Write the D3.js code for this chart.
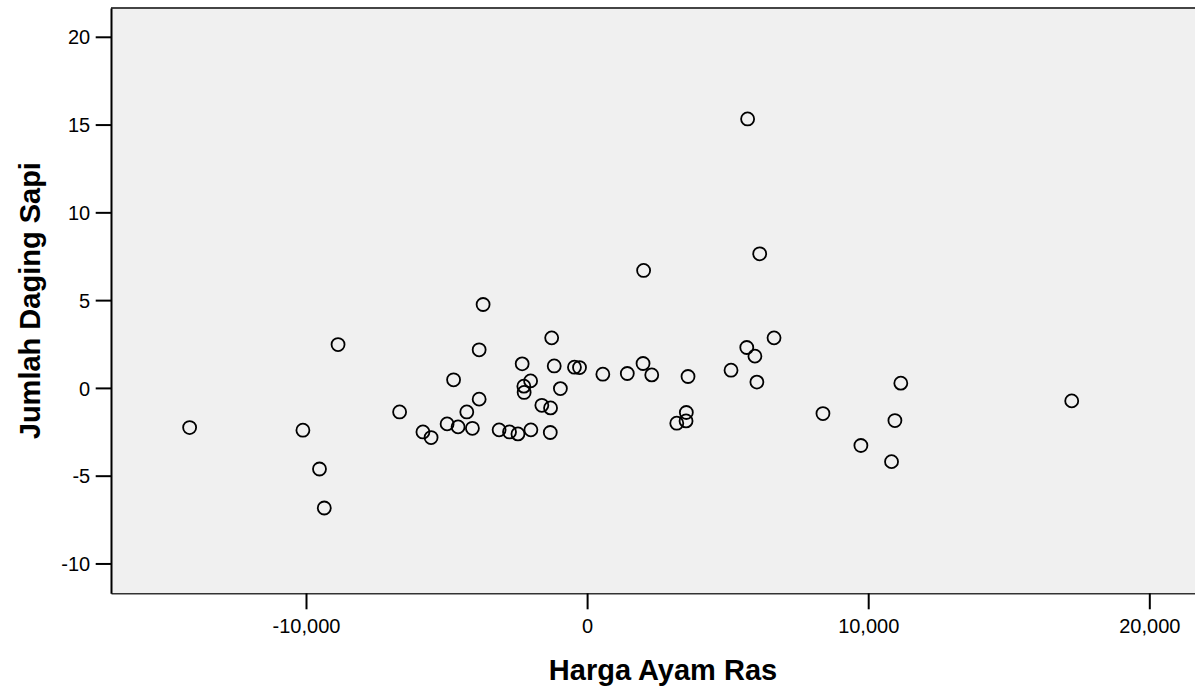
<!DOCTYPE html>
<html>
<head>
<meta charset="utf-8">
<script src="https://cdn.jsdelivr.net/npm/d3@7"></script>
<style>
  html, body { margin: 0; padding: 0; background: #ffffff; }
  svg { display: block; font-family: "Liberation Sans", Arial, Helvetica, sans-serif; }
</style>
</head>
<body>
<svg id="chart" width="1195" height="691"></svg>
<script>
// ---- data ----
const hargaAyamRas = [
  -14140, -10110, -9520, -9350, -8860, -6670, -5840, -5550, -4980, -4750,
  -4590, -4280, -4080, -3840, -3840, -3700, -3130, -2760, -2460, -2310,
  -2250, -2240, -2010, -2000, -1610, -1300, -1310, -1260, -1170, -950,
  -450, -270, 560, 1430, 1990, 2010, 2300, 3190, 3530, 3520,
  3590, 5120, 5680, 5710, 5970, 6040, 6140, 6650, 8390, 9740,
  10830, 10950, 11160, 17240
];
const jumlahDagingSapi = [
  -2.26, -2.41, -4.62, -6.84, 2.47, -1.37, -2.51, -2.83, -2.05, 0.46,
  -2.22, -1.37, -2.30, -0.64, 2.17, 4.75, -2.39, -2.51, -2.62, 1.37,
  0.10, -0.26, 0.40, -2.39, -0.99, -1.14, -2.54, 2.85, 1.25, -0.04,
  1.18, 1.16, 0.78, 0.82, 1.39, 6.69, 0.74, -2.01, -1.40, -1.88,
  0.65, 1.01, 2.30, 15.32, 1.81, 0.33, 7.64, 2.85, -1.46, -3.28,
  -4.20, -1.86, 0.27, -0.74
];
const xTickValues = [-10000, 0, 10000, 20000];
const xTickLabels = ["-10,000", "0", "10,000", "20,000"];
const yTickValues = [20, 15, 10, 5, 0, -5, -10];
const yTickLabels = ["20", "15", "10", "5", "0", "-5", "-10"];
const xTitle = "Harga Ayam Ras";
const yTitle = "Jumlah Daging Sapi";

// ---- layout ----
const plot = { left: 111, right: 1215, top: 8, bottom: 593.3 };
const svg = d3.select("#chart");

const x = d3.scaleLinear().domain([-16937, 22337]).range([plot.left, plot.right]);
const y = d3.scaleLinear().domain([-11.70, 21.64]).range([plot.bottom, plot.top]);

// plot background
svg.append("rect")
  .attr("x", plot.left).attr("y", plot.top)
  .attr("width", plot.right - plot.left).attr("height", plot.bottom - plot.top)
  .attr("fill", "#f0f0f0");

// top border
svg.append("line")
  .attr("x1", plot.left).attr("x2", plot.right)
  .attr("y1", plot.top).attr("y2", plot.top)
  .attr("stroke", "#444").attr("stroke-width", 2);

// points
const pts = hargaAyamRas.map((v, i) => ({ x: v, y: jumlahDagingSapi[i] }));
svg.append("g").selectAll("circle").data(pts).join("circle")
  .attr("cx", d => x(d.x)).attr("cy", d => y(d.y))
  .attr("r", 6.5)
  .attr("fill", "none")
  .attr("stroke", "#000")
  .attr("stroke-width", 1.8);

// x axis
const xAxis = d3.axisBottom(x)
  .tickValues(xTickValues)
  .tickFormat((d, i) => xTickLabels[i])
  .tickSize(16).tickSizeOuter(0).tickPadding(10);
const gx = svg.append("g").attr("transform", `translate(0,${plot.bottom})`).call(xAxis);
gx.select(".domain").attr("stroke", "#333").attr("stroke-width", 1.6);
gx.selectAll(".tick line").attr("stroke", "#000").attr("stroke-width", 2);
gx.selectAll(".tick text").attr("font-size", 20).attr("fill", "#000")
  .attr("font-family", "'Liberation Sans', Arial, sans-serif");

// y axis
const yAxis = d3.axisLeft(y)
  .tickValues(yTickValues)
  .tickFormat((d, i) => yTickLabels[i])
  .tickSize(15.3).tickSizeOuter(0).tickPadding(5.5);
const gy = svg.append("g").attr("transform", `translate(${plot.left},0)`).call(yAxis);
gy.select(".domain").attr("stroke", "#000").attr("stroke-width", 2);
gy.selectAll(".tick line").attr("stroke", "#000").attr("stroke-width", 2);
gy.selectAll(".tick text").attr("font-size", 20).attr("fill", "#000")
  .attr("dy", "0.36em")
  .attr("font-family", "'Liberation Sans', Arial, sans-serif");

// axis titles
svg.append("text")
  .attr("x", (plot.left + plot.right) / 2).attr("y", 680)
  .attr("text-anchor", "middle")
  .attr("font-size", 29).attr("font-weight", "bold").attr("fill", "#000")
  .text(xTitle);

svg.append("text")
  .attr("transform", `translate(39.5,${(plot.top + plot.bottom) / 2}) rotate(-90)`)
  .attr("text-anchor", "middle")
  .attr("font-size", 29).attr("font-weight", "bold").attr("fill", "#000")
  .text(yTitle);
</script>
</body>
</html>
